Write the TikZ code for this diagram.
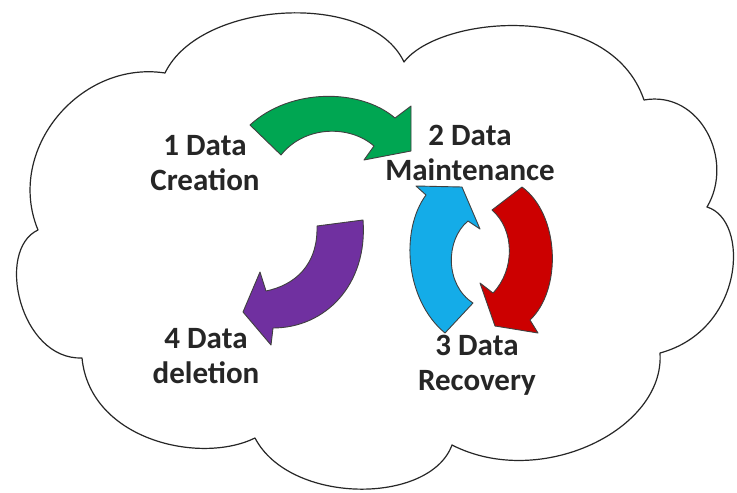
\documentclass[tikz,border=0pt]{standalone}
\usepackage{fontspec}
\setmainfont{Carlito}
\definecolor{cgreen}{RGB}{0,166,82}
\definecolor{cpurple}{RGB}{112,48,160}
\definecolor{cblue}{RGB}{20,172,232}
\definecolor{cred}{RGB}{204,0,0}
\definecolor{ctext}{RGB}{38,38,38}
\begin{document}
\begin{tikzpicture}[x=1pt,y=-1pt,
  cloudline/.style={draw=black!85,line width=1.2pt,line join=round},
  bentarrow/.style={draw=black!75,line width=0.9pt,line join=round},
  lbl/.style={font=\fontsize{31}{35}\selectfont\bfseries,text=ctext,align=center,anchor=base,inner sep=0pt}]
\useasboundingbox (0,0) rectangle (737,493);
\fill[white] (0,0) rectangle (737,493);
% cloud
\draw[cloudline]
  (165,73) .. controls (200,0) and (370,-10) .. (404,62)
  .. controls (440,15) and (610,0) .. (644,100)
  .. controls (700,90) and (735,160) .. (707,207)
  .. controls (750,220) and (745,330) .. (660,353)
  .. controls (665,430) and (540,490) .. (452,445)
  .. controls (430,505) and (290,505) .. (255,438)
  .. controls (200,465) and (90,440) .. (82,358)
  .. controls (20,360) and (-5,250) .. (38,230)
  .. controls (5,150) and (80,60) .. (165,73) -- cycle;
% green arrow
\filldraw[bentarrow,fill=cgreen]
  (250,125) .. controls (290,88) and (360,88) .. (395,118)
  -- (411,106) -- (411,151) -- (364,160) -- (374,146)
  .. controls (350,125) and (305,125) .. (281,155) -- cycle;
% purple arrow
\filldraw[bentarrow,fill=cpurple]
  (363,220) .. controls (368,285) and (325,328) .. (273,328)
  -- (271,345) -- (243,312) -- (260,272) -- (266,291)
  .. controls (295,285) and (318,265) .. (317,226) -- cycle;
% blue arrow
\filldraw[bentarrow,fill=cblue]
  (445,333) .. controls (405,300) and (400,230) .. (426,195)
  -- (416,186) -- (462,187) -- (480,229) -- (468,221)
  .. controls (445,240) and (445,285) .. (473,303) -- cycle;
% red arrow
\filldraw[bentarrow,fill=cred]
  (522,187) .. controls (560,215) and (562,290) .. (530,320)
  -- (538,333) -- (495,326) -- (480,283) -- (493,293)
  .. controls (515,270) and (515,230) .. (492,210) -- cycle;
% labels
\node[lbl] (creation) at (205,190) {1 Data\\Creation};
\node[lbl] (maint) at (470,180) {2 Data\\Maintenance};
\node[lbl] (recov) at (477,390) {3 Data\\Recovery};
\node[lbl] (delet) at (206,383) {4 Data\\deletion};
\end{tikzpicture}
\end{document}
